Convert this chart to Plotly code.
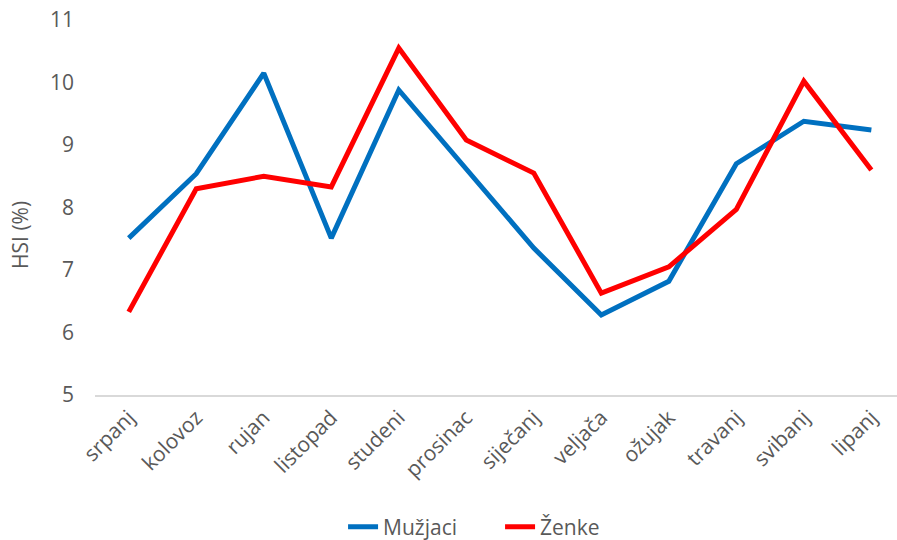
import plotly.graph_objects as go

months = ["srpanj", "kolovoz", "rujan", "listopad", "studeni", "prosinac",
          "siječanj", "veljača", "ožujak", "travanj", "svibanj", "lipanj"]
muzjaci = [7.51, 8.54, 10.15, 7.51, 9.88, 8.63, 7.35, 6.28, 6.82, 8.70, 9.38, 9.24]
zenke = [6.33, 8.30, 8.50, 8.33, 10.55, 9.08, 8.55, 6.63, 7.05, 7.97, 10.02, 8.60]
y_ticks = [5, 6, 7, 8, 9, 10, 11]

font_family = "Open Sans, sans-serif"
grey = "#595959"
fs = 21

fig = go.Figure()
fig.add_trace(go.Scatter(x=months, y=muzjaci, mode="lines", name="Mužjaci",
                         line=dict(color="#0070C0", width=5)))
fig.add_trace(go.Scatter(x=months, y=zenke, mode="lines", name="Ženke",
                         line=dict(color="#FF0000", width=5)))

fig.add_annotation(text="HSI (%)", textangle=-90, xref="paper", yref="paper",
                   x=-0.0935, y=0.427, xanchor="center", yanchor="middle",
                   showarrow=False, font=dict(size=fs, color=grey))

fig.update_layout(
    width=897, height=540,
    margin=dict(l=95, r=0, t=20, b=145, autoexpand=False),
    plot_bgcolor="white", paper_bgcolor="white",
    font=dict(family=font_family, color=grey, size=fs),
    showlegend=True,
    legend=dict(orientation="h", xref="paper", yref="paper",
                x=0.3093, xanchor="left", y=-0.352, yanchor="middle",
                font=dict(size=fs, color=grey), itemwidth=30,
                entrywidth=112, entrywidthmode="pixels",
                tracegroupgap=0),
    xaxis=dict(type="category", range=[-0.5, 11.38], tickangle=-45,
               showline=True, linecolor="#d9d9d9", linewidth=2,
               showgrid=False, ticks="", tickfont=dict(size=fs, color=grey)),
    yaxis=dict(range=[5, 11], tickvals=y_ticks, showgrid=False, zeroline=False,
               showline=False, ticks="", ticklen=0, ticklabelstandoff=20,
               tickfont=dict(size=fs, color=grey)),
)

fig.write_html("out.html", config={"displayModeBar": False},
               post_script="document.body.style.margin='0';")
